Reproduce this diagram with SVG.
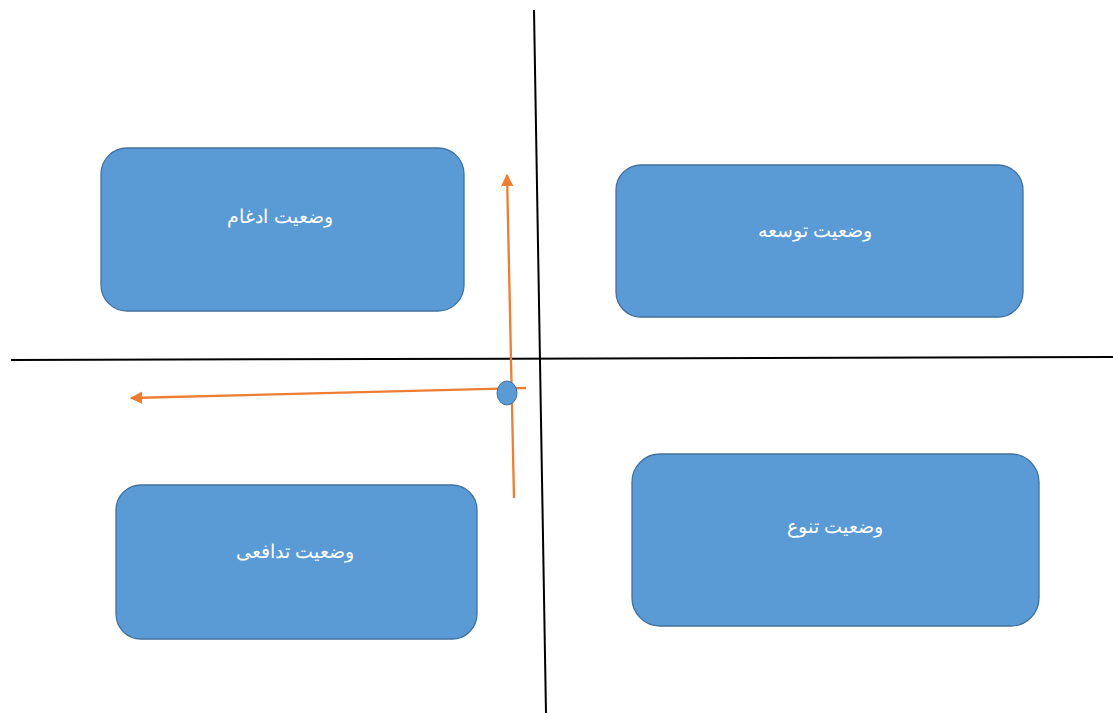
<svg xmlns="http://www.w3.org/2000/svg" width="1113" height="713" viewBox="0 0 1113 713">
<style>
.box{fill:#5B9BD5;stroke:#41719C;stroke-width:1.3}
.lbl{fill:#FFFFFF;font-family:"Liberation Sans","Noto Sans",sans-serif;font-size:19px;text-anchor:middle;dominant-baseline:middle}
.axis{stroke:#000;stroke-width:2;fill:none}
.or{stroke:#ED7D31;stroke-width:2.3;fill:none}
</style>
<defs>
<marker id="ah" viewBox="0 0 10 10" refX="9" refY="5" markerWidth="5.5" markerHeight="5.5" orient="auto" markerUnits="strokeWidth">
<path d="M0,0 L10,5 L0,10 z" fill="#ED7D31"/>
</marker>
</defs>
<rect width="1113" height="713" fill="#FFFFFF"/>
<g id="connectors">
<line class="axis" x1="534" y1="10" x2="546" y2="713"/>
<line class="axis" x1="11" y1="360" x2="1113" y2="357"/>
<line class="or" x1="514" y1="498" x2="507" y2="175" marker-end="url(#ah)"/>
<line class="or" x1="526" y1="388" x2="131" y2="398" marker-end="url(#ah)"/>
</g>
<g id="point">
<ellipse cx="507" cy="393" rx="10" ry="12" fill="#5B9BD5" stroke="#41719C" stroke-width="1"/>
</g>
<g id="n1">
<rect class="box" x="101" y="148" width="363" height="163" rx="26"/>
<text class="lbl" x="280" y="218" direction="rtl">وضعیت ادغام</text>
</g>
<g id="n2">
<rect class="box" x="616" y="165" width="407" height="152" rx="25"/>
<text class="lbl" x="815" y="232" direction="rtl">وضعیت توسعه</text>
</g>
<g id="n3">
<rect class="box" x="116" y="485" width="361" height="154" rx="25"/>
<text class="lbl" x="295" y="553" direction="rtl">وضعیت تدافعی</text>
</g>
<g id="n4">
<rect class="box" x="632" y="454" width="407" height="172" rx="28"/>
<text class="lbl" x="835" y="528" direction="rtl">وضعیت تنوع</text>
</g>
</svg>
